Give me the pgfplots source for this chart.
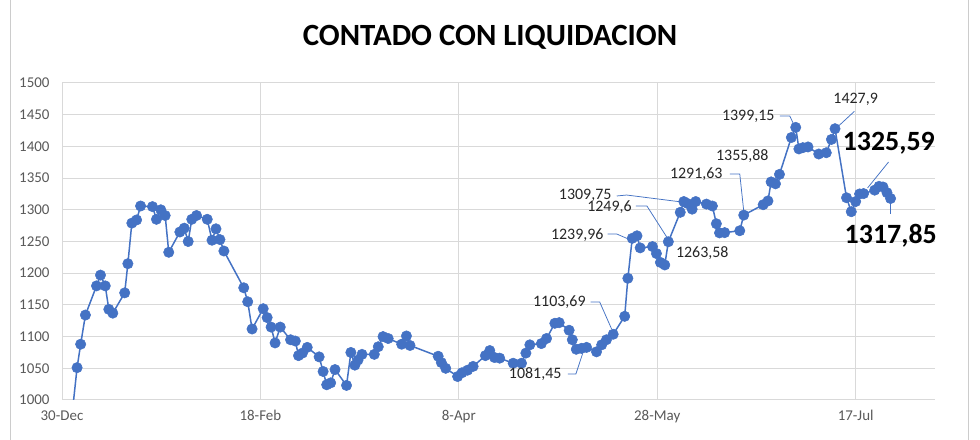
\documentclass[border=0pt]{standalone}
\usepackage{pgfplots}
\pgfplotsset{compat=1.18}
\usepackage{fontspec}
\setmainfont{Carlito}
\definecolor{exblue}{HTML}{4472C4}
\definecolor{tickgray}{HTML}{595959}
\definecolor{gridgray}{HTML}{D9D9D9}
\definecolor{lblgray}{HTML}{262626}
\begin{document}
\begin{tikzpicture}
\useasboundingbox (0,0) rectangle (980bp,440bp);
\fill[white] (0,0) rectangle (980bp,440bp);
\draw[gray!40, line width=1bp] (10bp,-1bp) -- (10bp,441bp);
\draw[gray!40, line width=1bp] (968bp,-1bp) -- (968bp,441bp);
\node[anchor=base, font=\bfseries\fontsize{31}{37}\selectfont] at (490bp,394bp) {CONTADO CON LIQUIDACION};
\begin{axis}[
 at={(62bp,40bp)}, anchor=south west, scale only axis, width=873bp, height=317bp,
 xmin=0, xmax=220, ymin=1000, ymax=1500,
 xtick={0,50,100,150,200}, xticklabels={30-Dec,18-Feb,8-Apr,28-May,17-Jul},
 ytick={1000,1050,...,1500},
 grid=major, major grid style={draw=gridgray, line width=1bp},
 axis line style={draw=none}, major tick length=0pt,
 tick label style={font=\fontsize{15}{18}\selectfont, text=tickgray},
 /pgf/number format/assume math mode=true, /pgf/number format/1000 sep={},
 xticklabel style={yshift=-7bp},
 yticklabel style={xshift=-9bp},
 clip mode=individual,
]
\addplot[exblue, line width=1.5bp, mark=*, mark size=5.2bp, mark options={fill=exblue, draw=exblue, line width=0.5bp}] coordinates {
(2.5,975) (3.8,1051) (4.7,1088) (5.9,1134) (8.7,1180) (9.7,1197) (10.9,1180)
(11.8,1143) (12.8,1137) (15.8,1169) (16.6,1215) (17.6,1279) (18.8,1284)
(19.8,1306) (22.8,1305) (23.8,1285) (24.9,1300) (26.0,1291) (26.9,1233)
(29.7,1265) (30.8,1271) (31.8,1250) (32.7,1285) (33.9,1291) (36.6,1285)
(37.8,1252) (38.8,1270) (39.8,1253) (40.8,1235) (45.8,1177) (46.8,1155)
(47.9,1112) (50.7,1144) (51.7,1130) (52.7,1115) (53.7,1090) (55.0,1115)
(57.6,1095) (58.8,1093) (59.6,1070) (60.6,1074) (61.8,1083) (64.8,1068)
(65.8,1045) (66.7,1024) (67.7,1027) (68.8,1048) (71.7,1023) (72.8,1075)
(73.8,1055) (74.6,1063) (75.6,1072) (78.7,1072) (79.7,1084) (80.9,1100)
(82.2,1097) (85.6,1088) (86.8,1101) (87.7,1086) (94.8,1069) (95.6,1059)
(96.7,1050) (99.7,1037) (100.8,1043) (102.2,1047) (103.6,1053) (106.7,1070)
(107.8,1078) (109.0,1067) (110.3,1066) (113.7,1058) (115.8,1058) (116.9,1074)
(117.9,1087) (120.8,1089) (122.1,1097) (124.2,1121) (125.3,1122) (127.8,1110)
(128.6,1095) (129.6,1080) (130.9,1081.45) (132.2,1083) (134.7,1076) (136.0,1087)
(137.2,1095) (138.9,1103.69) (141.8,1132) (142.6,1192) (143.7,1255) (144.9,1259)
(145.7,1239.96) (148.8,1242) (149.8,1231) (150.8,1217) (151.9,1213) (152.8,1249.6)
(155.8,1296) (156.7,1313) (157.7,1309.75) (158.8,1301) (159.7,1313) (162.4,1309)
(163.9,1306) (164.9,1278) (165.7,1263.58) (167.0,1264) (170.8,1267) (171.8,1291.63)
(176.7,1308) (177.9,1314) (178.7,1344) (179.8,1341) (180.8,1355.88) (183.8,1414)
(184.9,1430) (185.7,1396) (186.7,1398) (188.0,1399.15) (190.7,1388) (192.6,1390)
(193.9,1411) (194.8,1427.9) (197.7,1319) (198.9,1297) (200.0,1313) (201.0,1325)
(202.0,1325.59) (204.8,1331) (205.9,1337) (206.9,1336) (207.9,1327) (208.8,1317.85)
};
% data labels with leader lines
\begin{scope}[every node/.style={inner sep=0pt, font=\fontsize{16}{19}\selectfont, text=lblgray}]
\draw[exblue, line width=0.75bp] (axis cs:139.8,1321.8) -- (axis cs:142.3,1323.3) -- (axis cs:156.2,1312.3);
\node[anchor=east] at (axis cs:138.5,1322.5) {1309,75};
\draw[exblue, line width=0.75bp] (axis cs:144.6,1306) -- (axis cs:147.4,1306) -- (axis cs:152.4,1257);
\node[anchor=east] at (axis cs:143.6,1304.4) {1249,6};
\draw[exblue, line width=0.75bp] (axis cs:137.5,1261.8) -- (axis cs:139.8,1261.8) -- (axis cs:143.3,1252.4);
\node[anchor=east] at (axis cs:136.5,1260.3) {1239,96};
\draw[exblue, line width=0.75bp] (axis cs:133.2,1154.6) -- (axis cs:135.5,1154.6) -- (axis cs:138.5,1112);
\node[anchor=east] at (axis cs:132,1154.6) {1103,69};
\draw[exblue, line width=0.75bp] (axis cs:127.5,1041) -- (axis cs:129.5,1041) -- (axis cs:131.5,1078.9);
\node[anchor=east] at (axis cs:125.9,1041) {1081,45};
\node[anchor=west] at (axis cs:154.7,1231.9) {1263,58};
\draw[exblue, line width=0.75bp] (axis cs:168.3,1356.5) -- (axis cs:170.8,1356.5) -- (axis cs:171.8,1298);
\node[anchor=east] at (axis cs:166.5,1356.5) {1291,63};
\node[anchor=east] at (axis cs:178.1,1384.9) {1355,88};
\draw[exblue, line width=0.75bp] (axis cs:180.9,1448) -- (axis cs:183.4,1448) -- (axis cs:184.6,1432);
\node[anchor=east] at (axis cs:179.6,1448) {1399,15};
\draw[exblue, line width=0.75bp] (axis cs:199.7,1455.4) -- (axis cs:195.7,1432.2);
\node[anchor=center] at (axis cs:200,1474.8) {1427,9};
\draw[exblue, line width=0.75bp] (axis cs:208.3,1375.4) -- (axis cs:203,1334.4);
\node[anchor=west, font=\bfseries\fontsize{28}{32}\selectfont, text=black] at (axis cs:196.7,1405.4) {1325,59};
\draw[exblue, line width=0.75bp] (axis cs:208.8,1315.5) -- (axis cs:208.8,1293.4);
\node[anchor=west, font=\bfseries\fontsize{28}{32}\selectfont, text=black] at (axis cs:197.2,1258.7) {1317,85};
\end{scope}
\end{axis}
\end{tikzpicture}
\end{document}
